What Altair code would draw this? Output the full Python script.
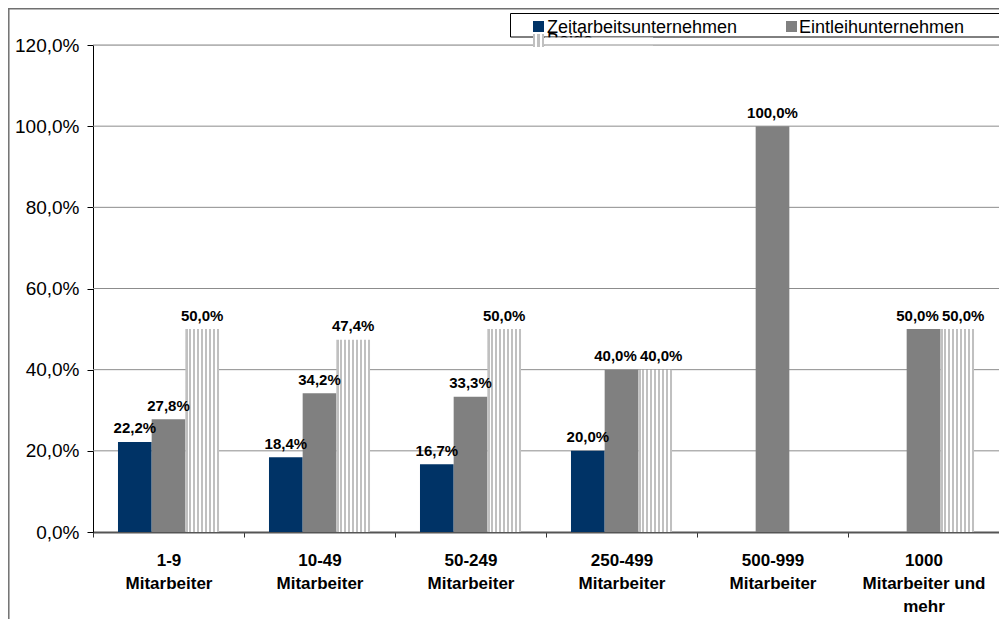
import altair as alt
import pandas as pd

# ---------------- data ----------------
categories = ["1-9\nMitarbeiter", "10-49\nMitarbeiter", "50-249\nMitarbeiter",
              "250-499\nMitarbeiter", "500-999\nMitarbeiter", "1000\nMitarbeiter und\nmehr"]
series_names = ["Zeitarbeitsunternehmen", "Eintleihunternehmen", "Beide"]
zeitarbeit = [22.2, 18.4, 16.7, 20.0, None, None]
entleih = [27.8, 34.2, 33.3, 40.0, 100.0, 50.0]
beide = [50.0, 47.4, 50.0, 40.0, None, 50.0]
y_ticks = [0, 20, 40, 60, 80, 100, 120]

rows = []
for s, vals in zip(series_names, [zeitarbeit, entleih, beide]):
    for c, v in zip(categories, vals):
        if v is not None:
            rows.append({"cat": c, "series": s, "v": v})
df = pd.DataFrame(rows)

# label collision handling: neighbouring bars with (nearly) equal height get their labels spread apart
df["side"] = "center"
for c in categories:
    sub = df[df["cat"] == c].set_index("series")["v"]
    for left, right in [(series_names[0], series_names[1]), (series_names[1], series_names[2])]:
        if left in sub and right in sub and abs(sub[left] - sub[right]) < 3:
            df.loc[(df["cat"] == c) & (df["series"] == left), "side"] = "left"
            df.loc[(df["cat"] == c) & (df["series"] == right), "side"] = "right"

grid_df = pd.DataFrame({"v": y_ticks[1:]})
one = pd.DataFrame({"a": [0]})

W, H = 906, 487
FONT = "Liberation Sans"
BLUE, GRAY, STRIPE = "#003366", "#808080", "#c0c0c0"


def stripes(n, w=0.55):
    P = (n - 1) + w
    stops = []
    for i in range(n):
        s, e = i / P, min((i + w) / P, 1.0)
        stops += [alt.GradientStop(color=STRIPE, offset=s), alt.GradientStop(color=STRIPE, offset=e)]
        if i < n - 1:
            stops += [alt.GradientStop(color="white", offset=e),
                      alt.GradientStop(color="white", offset=(i + 1) / P)]
    return alt.LinearGradient(gradient="linear", stops=stops, x1=0, x2=1, y1=0, y2=0)


pct_expr = "replace(format(datum.value, '.1f'), '.', ',') + '%'"

X = alt.X("cat:N", sort=categories,
          scale=alt.Scale(paddingInner=0, paddingOuter=0),
          axis=alt.Axis(title=None, labelExpr="split(datum.label, '\\n')", tickBand="extent",
                        labelAngle=0, labelFontSize=17, labelFontWeight="bold", labelLineHeight=23,
                        labelPadding=15, tickSize=5, domainColor="#555555", domainWidth=2,
                        tickColor="#333333", labelColor="black", grid=False, labelBaseline="top"))
Y = alt.Y("v:Q", scale=alt.Scale(domain=[0, 120], nice=False),
          axis=alt.Axis(title=None, values=y_ticks, labelExpr=pct_expr, grid=False, tickSize=6,
                        labelPadding=8, labelFontSize=19, domainColor="black", tickColor="black",
                        labelColor="black"))
XO = alt.XOffset("series:N", scale=alt.Scale(domain=series_names, paddingOuter=0.742, paddingInner=0))

# legend box
legend_box = alt.Chart(one).mark_rect(fill="white", stroke="black", strokeWidth=1).encode(
    x=alt.value(417.5), x2=alt.value(W + 30), y=alt.value(-31.5), y2=alt.value(-8))
# hidden third legend text (clipped in original)
beide_text = alt.Chart(one).mark_text(align="left", baseline="alphabetic", fontSize=18, font=FONT,
                                      color="black").encode(
    x=alt.value(454), y=alt.value(1), text=alt.value(series_names[2]))
cover = alt.Chart(one).mark_rect(fill="white").encode(
    x=alt.value(452), x2=alt.value(560), y=alt.value(-7.5), y2=alt.value(4))

gridlines = alt.Chart(grid_df).mark_rule(color="#8c8c8c", strokeWidth=1).encode(y=Y)

bars_ab = alt.Chart(df).transform_filter(
    alt.FieldOneOfPredicate(field="series", oneOf=series_names[:2])
).mark_bar().encode(
    x=X, y=Y, xOffset=XO,
    color=alt.Color("series:N", scale=alt.Scale(domain=series_names[:2], range=[BLUE, GRAY]), legend=None))

bars_c = alt.Chart(df).transform_filter(
    alt.FieldEqualPredicate(field="series", equal=series_names[2])
).mark_bar(color=stripes(9)).encode(x=X, y=Y, xOffset=XO)


def label_layer(side, dx):
    return alt.Chart(df).transform_filter(
        alt.FieldEqualPredicate(field="side", equal=side)
    ).transform_calculate(
        lbl="replace(format(datum.v, '.1f'), '.', ',') + '%'"
    ).mark_text(baseline="alphabetic", dy=-8.5, dx=dx, fontSize=15, fontWeight="bold", font=FONT,
                color="black").encode(x=X, y=Y, xOffset=XO, text="lbl:N")


labels = [label_layer("center", 0), label_layer("left", -6), label_layer("right", 6)]

# legend entries
sq_blue = alt.Chart(one).mark_rect(fill=BLUE).encode(
    x=alt.value(440), x2=alt.value(451), y=alt.value(-24), y2=alt.value(-13))
txt_blue = alt.Chart(one).mark_text(align="left", baseline="alphabetic", fontSize=18, font=FONT,
                                    color="black").encode(
    x=alt.value(454), y=alt.value(-12), text=alt.value(series_names[0]))
sq_gray = alt.Chart(one).mark_rect(fill=GRAY).encode(
    x=alt.value(693), x2=alt.value(704), y=alt.value(-24), y2=alt.value(-13))
txt_gray = alt.Chart(one).mark_text(align="left", baseline="alphabetic", fontSize=18, font=FONT,
                                    color="black").encode(
    x=alt.value(706), y=alt.value(-12), text=alt.value(series_names[1]))
sq_stripe = alt.Chart(one).mark_rect(fill=stripes(3)).encode(
    x=alt.value(440), x2=alt.value(451), y=alt.value(-11), y2=alt.value(2))

# outer frame (left and top edges visible)
frame_left = alt.Chart(one).mark_rule(color="#707070", strokeWidth=1.5).encode(
    x=alt.value(-84.2), y=alt.value(-37), y2=alt.value(H + 90))
frame_top = alt.Chart(one).mark_rule(color="#707070", strokeWidth=1.5).encode(
    x=alt.value(-85), x2=alt.value(W + 30), y=alt.value(-36.2))

chart = alt.layer(
    legend_box, beide_text, cover, gridlines, bars_ab, bars_c, *labels,
    sq_blue, txt_blue, sq_gray, txt_gray, sq_stripe, frame_left, frame_top
).properties(
    width=W, height=H,
    autosize=alt.AutoSizeParams(type="none"),
    padding={"left": 85, "top": 37, "right": 0, "bottom": 87},
    background="white",
).configure_view(stroke="transparent").configure(font=FONT)

chart.save("out.html", embed_options={"renderer": "svg", "actions": False})
